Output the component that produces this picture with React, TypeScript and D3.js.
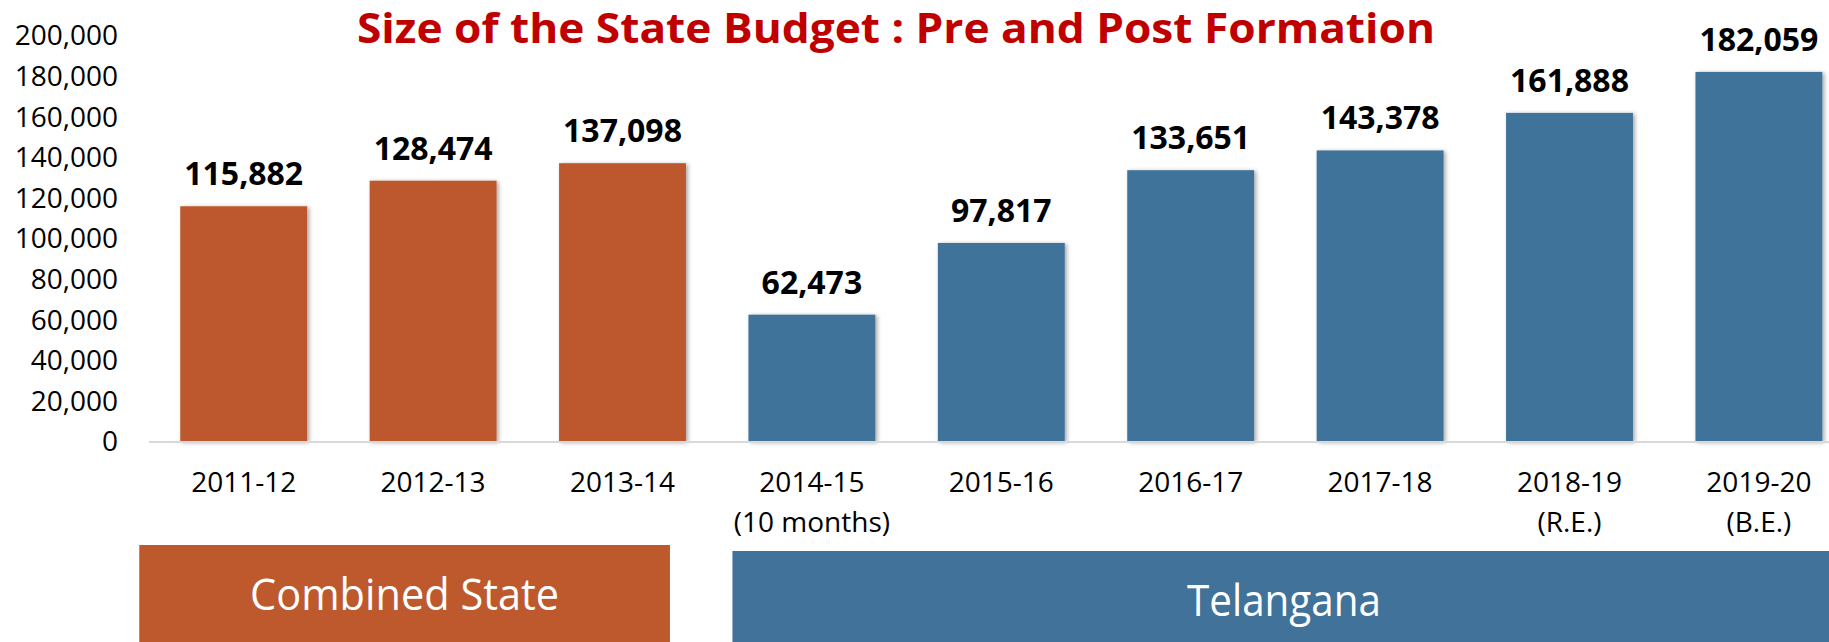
import React from "react";
import * as d3 from "d3";

const categories = ["2011-12", "2012-13", "2013-14", "2014-15", "2015-16", "2016-17", "2017-18", "2018-19", "2019-20"];
const subLabels = ["", "", "", "(10 months)", "", "", "", "(R.E.)", "(B.E.)"];
const values = [115882, 128474, 137098, 62473, 97817, 133651, 143378, 161888, 182059];
const groups = ["Combined", "Combined", "Combined", "Telangana", "Telangana", "Telangana", "Telangana", "Telangana", "Telangana"];
const yTicks = [0, 20000, 40000, 60000, 80000, 100000, 120000, 140000, 160000, 180000, 200000];
const title = "Size of the State Budget : Pre and Post Formation";
const groupNames = ["Combined State", "Telangana"];

const W = 1829;
const H = 642;
const ORANGE = "#BD592D";
const BLUE = "#41739A";
const FONT = "'Open Sans', sans-serif";

export default function App() {
  const step = 189.4;
  const x = d3
    .scaleBand<string>()
    .domain(categories)
    .range([149, 149 + step * categories.length])
    .paddingInner(0.33)
    .paddingOuter(0.165);
  const y = d3.scaleLinear().domain([0, 200000]).range([441.5, 35.5]);
  const fmt = d3.format(",");
  const color = (g: string) => (g === "Combined" ? ORANGE : BLUE);

  const firstX = x(categories[0])!;
  const lastCombined = x(categories[2])! + x.bandwidth();
  const firstTel = x(categories[3])!;

  return (
    <svg
      width={W}
      height={H}
      style={{ position: "absolute", left: 0, top: 0, display: "block", background: "#fff" }}
    >
      <defs>
        <filter id="sh" x="-10%" y="-10%" width="130%" height="130%">
          <feDropShadow dx="2" dy="1" stdDeviation="2" floodColor="#000" floodOpacity="0.35" />
        </filter>
      </defs>

      {/* y tick labels */}
      {yTicks.map((t) => (
        <text
          key={t}
          x={118}
          y={y(t)}
          dy="0.35em"
          textAnchor="end"
          fontFamily={FONT}
          fontSize={28}
          fill="#000"
        >
          {fmt(t)}
        </text>
      ))}

      {/* bars */}
      {values.map((v, i) => (
        <rect
          key={categories[i]}
          x={x(categories[i])}
          y={y(v)}
          width={x.bandwidth()}
          height={y(0) - y(v)}
          fill={color(groups[i])}
          filter="url(#sh)"
        />
      ))}

      {/* axis line */}
      <line x1={149} x2={W} y1={y(0) + 0.5} y2={y(0) + 0.5} stroke="#d9d9d9" strokeWidth={2} />

      {/* data labels */}
      {values.map((v, i) => (
        <text
          key={"l" + i}
          x={x(categories[i])! + x.bandwidth() / 2}
          y={y(v) - 21}
          textAnchor="middle"
          fontFamily={FONT}
          fontWeight={700}
          fontSize={32}
          fill="#000"
        >
          {fmt(v)}
        </text>
      ))}

      {/* x labels */}
      {categories.map((c, i) => (
        <g key={"x" + c}>
          <text
            x={x(c)! + x.bandwidth() / 2}
            y={492}
            textAnchor="middle"
            fontFamily={FONT}
            fontSize={28}
            fill="#000"
          >
            {c}
          </text>
          {subLabels[i] && (
            <text
              x={x(c)! + x.bandwidth() / 2}
              y={532}
              textAnchor="middle"
              fontFamily={FONT}
              fontSize={28}
              fill="#000"
            >
              {subLabels[i]}
            </text>
          )}
        </g>
      ))}

      {/* title */}
      <text
        x={896}
        y={43}
        textAnchor="middle"
        fontFamily={FONT}
        fontWeight={700}
        fontSize={42}
        fill="#C00000"
        textLength={1078}
        lengthAdjust="spacingAndGlyphs"
      >
        {title}
      </text>

      {/* group boxes */}
      <rect x={firstX - 41} y={545} width={lastCombined - 16 - (firstX - 41)} height={H - 545 + 2} fill={ORANGE} />
      <text
        x={(firstX - 41 + lastCombined - 16) / 2}
        y={610}
        textAnchor="middle"
        fontFamily={FONT}
        fontSize={43}
        fill="#fff"
        textLength={309}
        lengthAdjust="spacingAndGlyphs"
      >
        {groupNames[0]}
      </text>
      <rect x={firstTel - 16} y={551} width={W - (firstTel - 16) + 2} height={H - 551 + 2} fill={BLUE} />
      <text
        x={1284}
        y={616}
        textAnchor="middle"
        fontFamily={FONT}
        fontSize={43}
        fill="#fff"
        textLength={194}
        lengthAdjust="spacingAndGlyphs"
      >
        {groupNames[1]}
      </text>
    </svg>
  );
}
